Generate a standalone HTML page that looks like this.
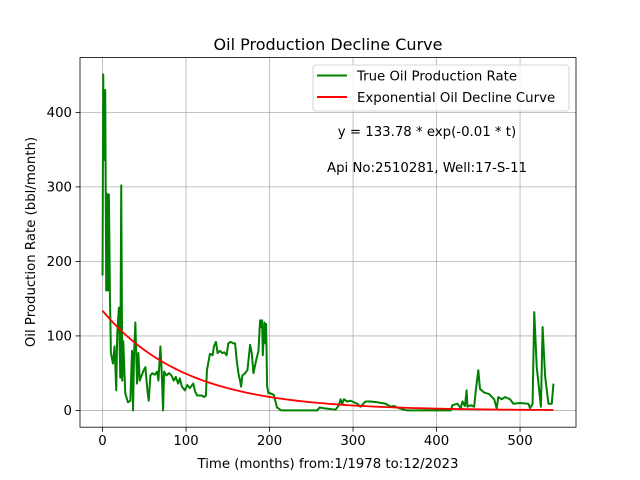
<!DOCTYPE html>
<html><head><meta charset="utf-8"><style>
body{margin:0;background:#fff}
svg{display:block;font-family:"DejaVu Sans","Liberation Sans",sans-serif}
</style></head><body>
<svg id="chart" width="640" height="480" viewBox="0 0 640 480"></svg>
<script>
const months=[0,0.8,1.6,3.2,4.4,5.2,6.4,7.6,8.8,10,12.4,14.4,16.4,17.6,19.6,21.2,22.4,23.6,24.8,27.2,30.4,33.3,35.3,36.5,37.7,39.3,41.3,42.9,44.5,46.9,49.3,51.3,53.7,55.3,57.3,59.7,62.5,65.3,66.9,69.3,70.9,72.5,73.7,76.5,79.7,82.5,85.3,87.7,90.5,92.5,95,98.6,101.4,104.6,108.6,111,113.4,118.6,121.8,123.8,125,128.6,131.8,133.4,135.8,137.8,140.6,143.4,145.8,148.6,150.6,153.4,156.6,158.7,160.7,162.7,164.7,165.9,167.5,170.7,173.5,176.7,178.7,180.7,183.9,186.7,188.7,189.9,191.1,191.9,193.9,195.1,195.9,197.1,198.7,201,205,209,214,257,260,265,279,283,285,287,289,293,297,305,309,315,321,329,339,345,349,355,361,365,417,419,425,429,431,434,436,437,441,445,447,450,452,457,463,469,472,474,478,482,488,492,500,510,512,515,517,520,525,527,530,534,538,540];
const rates=[181,451,336,430,161,291,161,290,158,77,63,86,27,103,138,44,302,40,93,23,11,13,80,0,74,118,36,77,40,47,54,58,27,13,47,50,48,52,40,86,50,0,52,47,50,47,40,45,36,43,32,27,34,30,36,25,20,20,18,20,54,76,74,86,92,77,80,77,78,74,90,92,90,90,67,50,40,32,47,50,54,88,77,50,67,80,121,112,121,74,118,90,116,32,23,23,21,4,0,0,4,3,1,7,15,9,15,12,13,9,5,12,12,11,9,5,6,3,1,0,0,7,9,3,12,6,27,5,7,5,27,54,29,24,22,15,3,18,15,18,15,9,10,9,3,9,132,58,5,112,46,9,9,36];
const fitA=133.78, fitB=0.01, fitEnd=540;
const xTicks=[0,100,200,300,400,500];
const yTicks=[0,100,200,300,400];
const L=80,R=576,T=57.6,B=427.2,xmin=-27,xmax=567,ymin=-22.5,ymax=473.5;
const sx=v=>L+(v-xmin)/(xmax-xmin)*(R-L);
const sy=v=>B-(v-ymin)/(ymax-ymin)*(B-T);
const svg=document.getElementById('chart');
const NS='http://www.w3.org/2000/svg';
function mk(tag,attrs,parent){const e=document.createElementNS(NS,tag);for(const k in attrs)e.setAttribute(k,attrs[k]);(parent||svg).appendChild(e);return e;}
function txt(s,attrs){const e=mk('text',attrs);e.textContent=s;return e;}
xTicks.forEach(t=>{const g=mk('line',{x1:sx(t),x2:sx(t),y1:T,y2:B,stroke:'#b0b0b0','stroke-width':0.8});


const tk=mk('line',{x1:sx(t),x2:sx(t),y1:B,y2:B+4.5,stroke:'#000','stroke-width':0.8});


const lb=txt(String(t),{x:sx(t),y:B+18,'font-size':13.3,'text-anchor':'middle'});

});
yTicks.forEach(t=>{const g=mk('line',{x1:L,x2:R,y1:sy(t),y2:sy(t),stroke:'#b0b0b0','stroke-width':0.8});


const tk=mk('line',{x1:L-4.5,x2:L,y1:sy(t),y2:sy(t),stroke:'#000','stroke-width':0.8});


const lb=txt(String(t),{x:L-8,y:sy(t)+4.8,'font-size':13.3,'text-anchor':'end'});

});
const gp=mk('polyline',{points:months.map((m,i)=>sx(m)+','+sy(rates[i])).join(' '),fill:'none',stroke:'#008000','stroke-width':2,'stroke-linejoin':'round'});


const fp=[];for(let t=0;t<=fitEnd;t+=5)fp.push(sx(t)+','+sy(fitA*Math.exp(-fitB*t)));
const rp=mk('polyline',{points:fp.join(' '),fill:'none',stroke:'#ff0000','stroke-width':1.8});


const fr=mk('rect',{x:L,y:T,width:R-L,height:B-T,fill:'none',stroke:'#000','stroke-width':0.8});


const lg=mk('rect',{x:313,y:65,width:256,height:46,rx:3,fill:'#fff','fill-opacity':0.8,stroke:'#ccc','stroke-width':0.8});


const l1=mk('line',{x1:317,x2:347,y1:75.5,y2:75.5,stroke:'#008000','stroke-width':2});


const l2=mk('line',{x1:317,x2:347,y1:97,y2:97,stroke:'#ff0000','stroke-width':2});


const t1=txt('True Oil Production Rate',{x:357,y:80.5,'font-size':13.3});


const t2=txt('Exponential Oil Decline Curve',{x:357,y:102,'font-size':13.3});


const a1=txt('y = 133.78 * exp(-0.01 * t)',{x:427,y:136,'font-size':13.3,'text-anchor':'middle'});


const a2=txt('Api No:2510281, Well:17-S-11',{x:427,y:172,'font-size':13.3,'text-anchor':'middle'});


const ti=txt('Oil Production Decline Curve',{x:328,y:50,'font-size':16,'text-anchor':'middle'});


const xt=txt('Time (months) from:1/1978 to:12/2023',{x:328,y:468,'font-size':13.3,'text-anchor':'middle'});


const yt=txt('Oil Production Rate (bbl/month)',{x:0,y:0,'font-size':13.3,'text-anchor':'middle',transform:'translate(35,242) rotate(-90)'});


</script>
</body></html>
